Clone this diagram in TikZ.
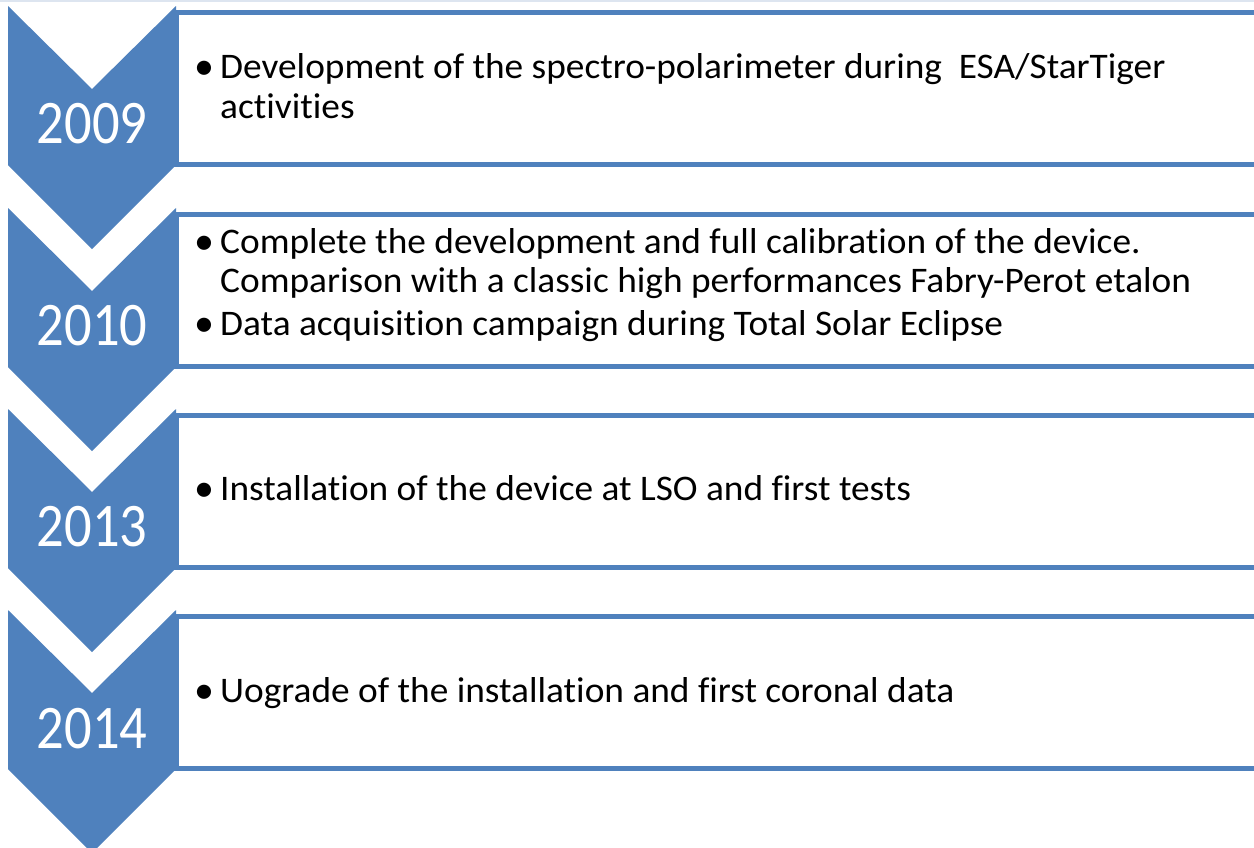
\documentclass[tikz,border=0pt]{standalone}
\usepackage{fontspec}
\setmainfont[Ligatures={NoCommon}]{Carlito}
\definecolor{chevblue}{RGB}{79,129,189}
\definecolor{topstrip}{RGB}{221,229,240}
\begin{document}
\begin{tikzpicture}[x=1pt,y=-1pt,
  chev/.style={fill=chevblue,draw=none},
  boxline/.style={draw=chevblue,line width=5pt,fill=white},
  year/.style={text=white,font=\fontsize{62}{62}\selectfont,anchor=base,inner sep=0pt,xscale=0.88},
  item/.style={text=black,font=\fontsize{36}{40}\selectfont,anchor=base west,inner sep=0pt,xscale=1.037},
  bul/.style={text=black,font=\fontsize{40}{40}\selectfont,anchor=base,inner sep=0pt}]
\useasboundingbox (0,0) rectangle (1254,847);
\fill[white] (0,0) rectangle (1254,847);
\fill[topstrip] (0,0) rectangle (1254,2);
% boxes
\foreach \T/\n in {6/1,208/2,409/3,610/4}{
  \draw[boxline] (176,\T+6) rectangle (1262,\T+158);
}
% chevrons
\foreach \T/\n in {6/1,208/2,409/3,610/4}{
  \fill[chev] (8,\T) -- (92,\T+83) -- (176,\T) -- (176,\T+159) -- (92,\T+243) -- (8,\T+159) -- cycle;
}
% years
\node[year] (y1) at (92,143) {2009};
\node[year] (y2) at (92,345) {2010};
\node[year] (y3) at (92,546) {2013};
\node[year] (y4) at (92,748) {2014};
% texts
\node[bul] (b1) at (204,79) {•};
\node[item] (t1a) at (220,78) {Development of the spectro-polarimeter during\ \ ESA/StarTiger};
\node[item] (t1b) at (220,118) {activities};
\node[bul] (b2) at (204,254) {•};
\node[item] (t2a) at (220,253) {Complete the development and full calibration of the device.};
\node[item] (t2b) at (220,292) {Comparison with a classic high performances Fabry-Perot etalon};
\node[bul] (b3) at (204,336) {•};
\node[item] (t2c) at (220,335) {Data acquisition campaign during Total Solar Eclipse};
\node[bul] (b4) at (204,501) {•};
\node[item] (t3) at (220,500) {Installation of the device at LSO and first tests};
\node[bul] (b5) at (204,703) {•};
\node[item] (t4) at (220,702) {Uograde of the installation and first coronal data};
\end{tikzpicture}
\end{document}
